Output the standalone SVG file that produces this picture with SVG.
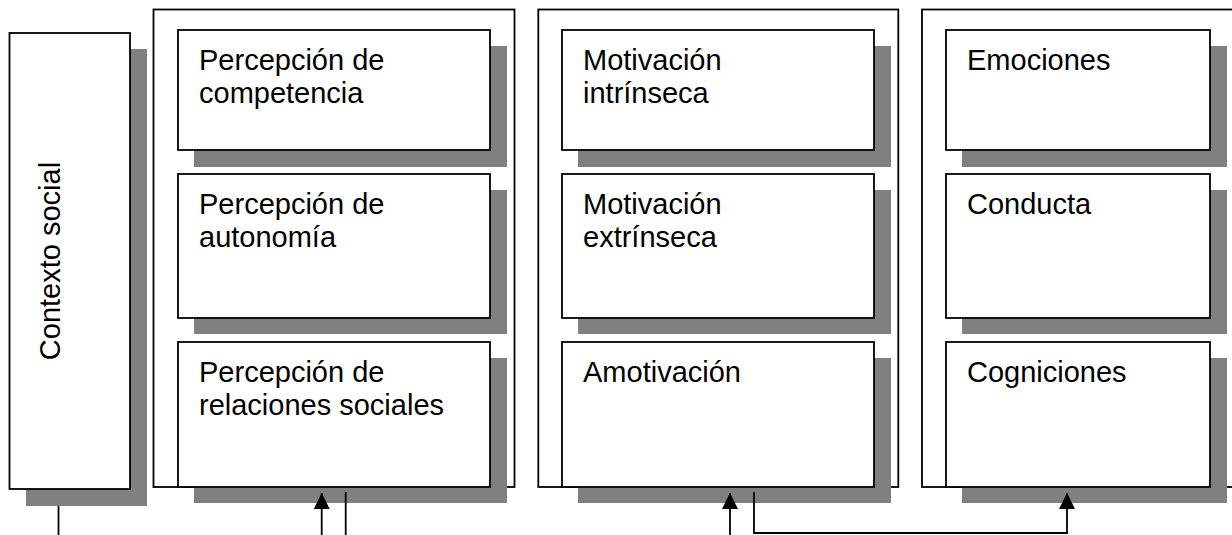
<svg xmlns="http://www.w3.org/2000/svg" width="1232" height="535" viewBox="0 0 1232 535">
<style>
.bg{fill:#ffffff}
.frame{fill:none;stroke:#000;stroke-width:1.8}
.box{fill:#ffffff;stroke:#000;stroke-width:1.8}
.shadow{fill:#808080;stroke:none}
.lbl{font-family:"Liberation Sans",Arial,sans-serif;font-size:29px;fill:#000}
.conn{fill:none;stroke:#000;stroke-width:1.8}
</style>
<defs>
<marker id="arr" markerUnits="userSpaceOnUse" markerWidth="17" markerHeight="17" refX="16" refY="8" orient="auto" viewBox="0 0 17 17">
<path d="M0,0 L16,8 L0,16 z" fill="#000"/>
</marker>
</defs>
<rect class="bg" x="0" y="0" width="1232" height="535"/>

<g id="contexto-social">
<rect class="shadow" x="26" y="49" width="121" height="457"/>
<rect class="box" x="9.5" y="33" width="120.5" height="456"/>
<text class="lbl" transform="translate(60,261) rotate(-90)" text-anchor="middle">Contexto social</text>
</g>

<g id="grupo-percepciones">
<rect class="frame" x="153.5" y="9.5" width="361" height="477.5"/>
</g>
<g id="percepcion-competencia">
<rect class="shadow" x="194" y="46" width="313" height="121"/>
<rect class="box" x="178" y="30" width="312" height="120"/>
<text class="lbl" x="199" y="70">Percepción de</text>
<text class="lbl" x="199" y="103">competencia</text>
</g>
<g id="percepcion-autonomia">
<rect class="shadow" x="194" y="190" width="313" height="144"/>
<rect class="box" x="178" y="174" width="312" height="144"/>
<text class="lbl" x="199" y="214">Percepción de</text>
<text class="lbl" x="199" y="247">autonomía</text>
</g>
<g id="percepcion-relaciones">
<rect class="shadow" x="194" y="358" width="313" height="145"/>
<rect class="box" x="178" y="342" width="312" height="145"/>
<text class="lbl" x="199" y="382">Percepción de</text>
<text class="lbl" x="199" y="415">relaciones sociales</text>
</g>

<g id="grupo-motivacion">
<rect class="frame" x="538.3" y="9.5" width="360" height="477.5"/>
</g>
<g id="motivacion-intrinseca">
<rect class="shadow" x="578" y="46" width="313" height="121"/>
<rect class="box" x="562" y="30" width="312" height="120"/>
<text class="lbl" x="583" y="70">Motivación</text>
<text class="lbl" x="583" y="103">intrínseca</text>
</g>
<g id="motivacion-extrinseca">
<rect class="shadow" x="578" y="190" width="313" height="144"/>
<rect class="box" x="562" y="174" width="312" height="144"/>
<text class="lbl" x="583" y="214">Motivación</text>
<text class="lbl" x="583" y="247">extrínseca</text>
</g>
<g id="amotivacion">
<rect class="shadow" x="578" y="358" width="313" height="145"/>
<rect class="box" x="562" y="342" width="312" height="145"/>
<text class="lbl" x="583" y="382">Amotivación</text>
</g>

<g id="grupo-consecuencias">
<rect class="frame" x="922" y="9.5" width="360" height="477.5"/>
</g>
<g id="emociones">
<rect class="shadow" x="962" y="46" width="265" height="121"/>
<rect class="box" x="946" y="30" width="264" height="120"/>
<text class="lbl" x="967" y="70">Emociones</text>
</g>
<g id="conducta">
<rect class="shadow" x="962" y="190" width="265" height="144"/>
<rect class="box" x="946" y="174" width="264" height="144"/>
<text class="lbl" x="967" y="214">Conducta</text>
</g>
<g id="cogniciones">
<rect class="shadow" x="962" y="358" width="265" height="145"/>
<rect class="box" x="946" y="342" width="264" height="145"/>
<text class="lbl" x="967" y="382">Cogniciones</text>
</g>

<g id="connectors">
<line class="conn" x1="58.5" y1="506" x2="58.5" y2="536"/>
<line class="conn" x1="321.7" y1="536" x2="321.7" y2="493" marker-end="url(#arr)"/>
<line class="conn" x1="345.7" y1="492" x2="345.7" y2="536"/>
<line class="conn" x1="730" y1="536" x2="730" y2="493" marker-end="url(#arr)"/>
<polyline class="conn" points="754,492 754,533 1067,533 1067,493" marker-end="url(#arr)"/>
</g>
</svg>
